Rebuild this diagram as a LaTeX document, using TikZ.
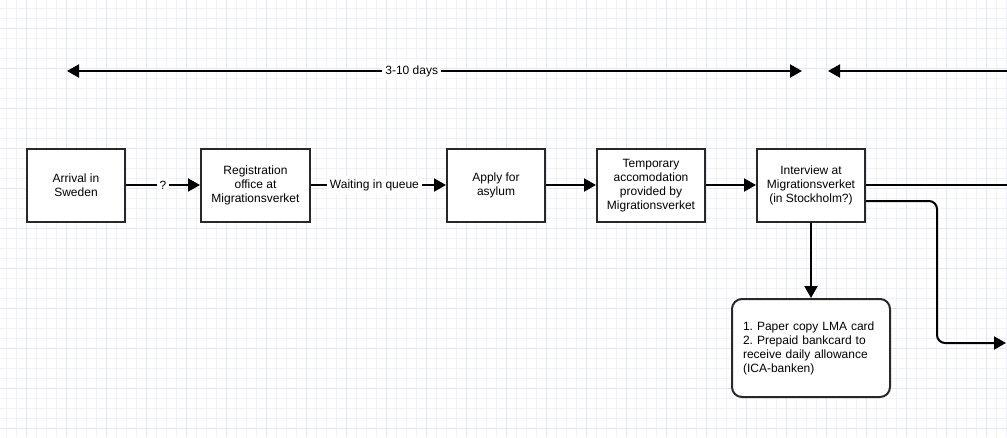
\documentclass[tikz,border=0pt]{standalone}
\usepackage{fontspec}
\setmainfont{Liberation Sans}
\usetikzlibrary{arrows.meta}
\frenchspacing
\definecolor{gridminor}{RGB}{241,241,252}
\definecolor{gridmajor}{RGB}{228,228,250}
\definecolor{boxline}{RGB}{40,40,40}
\tikzset{
  stepbox/.style={draw=boxline, line width=2pt, fill=white, align=center,
    font=\fontsize{12}{14}\selectfont, inner sep=2pt},
  conn/.style={line width=2pt, draw=black, -{Triangle[length=12pt,width=13pt]}},
  plainline/.style={line width=2pt, draw=black},
  lbl/.style={fill=white, font=\fontsize{12}{14}\selectfont, inner sep=3pt}
}
\begin{document}
\begin{tikzpicture}[x=1pt,y=-1pt]
\useasboundingbox (0,0) rectangle (1007,437);
\clip (0,0) rectangle (1007,437);
\fill[white] (0,0) rectangle (1007,437);
% grid
\foreach \i in {0,...,100} {
  \draw[gridminor, line width=1pt] (6.5+10*\i,0) -- (6.5+10*\i,437);
}
\foreach \j in {0,...,43} {
  \draw[gridminor, line width=1pt] (0,8.5+10*\j) -- (1007,8.5+10*\j);
}
\foreach \i in {0,...,25} {
  \draw[gridmajor, line width=1pt] (26.5+40*\i,0) -- (26.5+40*\i,437);
}
\foreach \j in {0,...,10} {
  \draw[gridmajor, line width=1pt] (0,28.5+40*\j) -- (1007,28.5+40*\j);
}

% boxes
\node[stepbox, minimum width=98pt, minimum height=73pt] (arr) at (76,185.5) {Arrival in\\Sweden};
\node[stepbox, minimum width=109pt, minimum height=73pt] (reg) at (255.5,185.5) {Registration\\office at\\Migrationsverket};
\node[stepbox, minimum width=98pt, minimum height=73pt] (app) at (496,185.5) {Apply for\\asylum};
\node[stepbox, minimum width=108pt, minimum height=73pt] (tmp) at (651,185.5) {Temporary\\accomodation\\provided by\\Migrationsverket};
\node[stepbox, minimum width=108pt, minimum height=73pt] (int) at (811,185.5) {Interview at\\Migrationsverket\\(in Stockholm?)};
\node[stepbox, rounded corners=10pt, minimum width=158pt, minimum height=98pt,
      text width=136pt, align=left] (card) at (811,348)
  {1. Paper copy LMA card\\2. Prepaid bankcard to\\receive daily allowance\\(ICA-banken)};

% connectors
\draw[conn] (arr.east |- 0,185) -- (reg.west |- 0,185) node[lbl, pos=0.5] {?};
\draw[conn] (reg.east |- 0,185) -- (app.west |- 0,185) node[lbl, pos=0.47] {Waiting in queue};
\draw[conn] (app.east |- 0,185) -- (tmp.west |- 0,185);
\draw[conn] (tmp.east |- 0,185) -- (int.west |- 0,185);
\coordinate (outA) at (1012,185);
\draw[plainline] (int.east |- 0,185) -- (outA);
\coordinate (outB) at (1006,343);
\draw[conn, rounded corners=8pt] (int.east |- 0,201) -- (937,201) -- (937,343) -- (outB);
\draw[conn] (int.south) -- (card.north);

% dimension lines
\coordinate (d1) at (67,71);
\coordinate (d2) at (802,71);
\coordinate (d3) at (828,71);
\coordinate (d4) at (1012,71);
\draw[line width=2pt, {Triangle[length=12pt,width=13pt]}-{Triangle[length=12pt,width=13pt]}] (d1) -- (d2) node[lbl, pos=0.469] {3-10 days};
\draw[line width=2pt, {Triangle[length=12pt,width=13pt]}-] (d3) -- (d4);
\end{tikzpicture}
\end{document}
